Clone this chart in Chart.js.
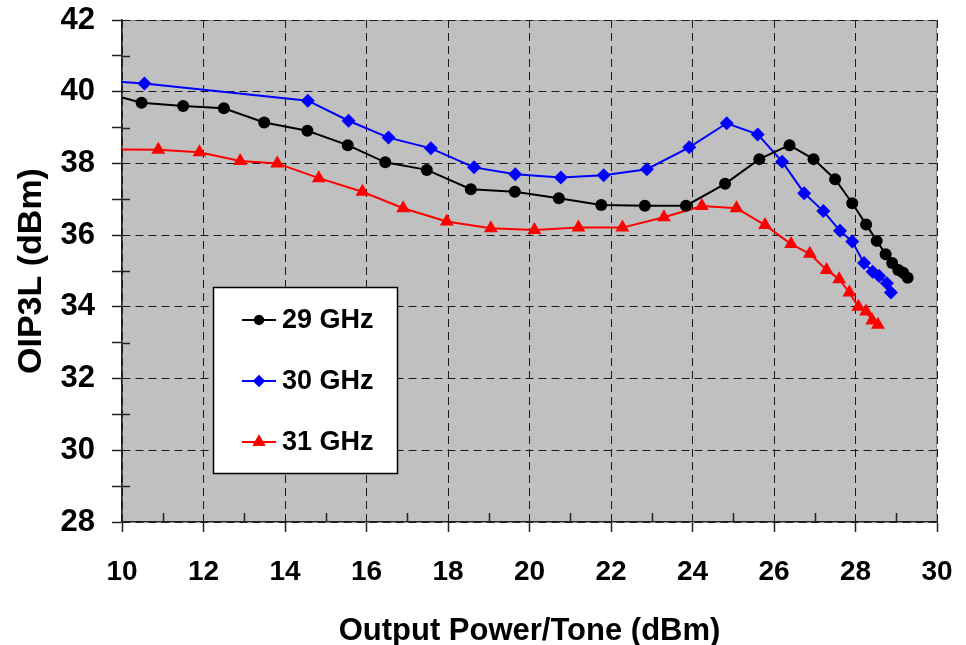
<!DOCTYPE html>
<html>
<head>
<meta charset="utf-8">
<title>OIP3L vs Output Power/Tone</title>
<script src="https://cdn.jsdelivr.net/npm/chart.js@4.4.1/dist/chart.umd.min.js"></script>
<style>
  html, body { margin: 0; padding: 0; background: #fff; }
</style>
</head>
<body>
<canvas id="oipChart" width="966" height="645"></canvas>
<script>
// values
const seriesNames = ['29 GHz', '30 GHz', '31 GHz'];

const pout29 = [10.0, 10.48, 11.50, 12.50, 13.49, 14.55, 15.54, 16.46, 17.48, 18.56, 19.64, 20.72, 21.76, 22.83, 23.84,
  24.80, 25.64, 26.38, 26.97, 27.50, 27.92, 28.26, 28.52, 28.74, 28.90, 29.05, 29.17, 29.28];
const oip29 = [39.84, 39.69, 39.60, 39.54, 39.14, 38.91, 38.51, 38.03, 37.82, 37.28, 37.21, 37.03, 36.84, 36.82, 36.82,
  37.43, 38.12, 38.51, 38.12, 37.56, 36.89, 36.30, 35.84, 35.47, 35.22, 35.03, 34.95, 34.81];

const pout30 = [10.0, 10.55, 14.56, 15.56, 16.54, 17.58, 18.64, 19.65, 20.77, 21.82, 22.88, 23.92, 24.84, 25.60,
  26.20, 26.74, 27.21, 27.62, 27.92, 28.21, 28.42, 28.58, 28.77, 28.87];
const oip30 = [40.27, 40.23, 39.75, 39.19, 38.72, 38.42, 37.89, 37.70, 37.61, 37.67, 37.84, 38.45, 39.12, 38.81,
  38.05, 37.17, 36.67, 36.12, 35.82, 35.22, 34.98, 34.86, 34.66, 34.40];

const pout31 = [10.0, 10.89, 11.90, 12.90, 13.81, 14.83, 15.90, 16.90, 17.97, 19.05, 20.12, 21.20, 22.28, 23.30,
  24.23, 25.08, 25.78, 26.42, 26.88, 27.29, 27.60, 27.85, 28.07, 28.26, 28.41, 28.55];
const oip31 = [38.39, 38.38, 38.31, 38.07, 38.00, 37.59, 37.21, 36.75, 36.38, 36.19, 36.14, 36.21, 36.21, 36.50,
  36.81, 36.75, 36.28, 35.75, 35.48, 35.03, 34.77, 34.40, 34.00, 33.87, 33.62, 33.50];

const xMin = 10, xMax = 30, yMin = 28, yMax = 42;
const FONT = 'Liberation Sans, Arial, Helvetica, sans-serif';

function toPoints(xs, ys) {
  return xs.map((x, i) => ({ x: x, y: ys[i] }));
}

// first value sits on the left edge of the plot, no marker there
const edgeRadius = r => ctx => ctx.dataIndex === 0 ? 0 : r;

const datasets = [
  { label: seriesNames[0], data: toPoints(pout29, oip29), borderColor: '#000000', backgroundColor: '#000000',
    pointStyle: 'circle', pointRadius: edgeRadius(6), legendRadius: 5 },
  { label: seriesNames[1], data: toPoints(pout30, oip30), borderColor: '#0000ff', backgroundColor: '#0000ff',
    pointStyle: 'rectRot', pointRadius: edgeRadius(7), legendRadius: 6 },
  { label: seriesNames[2], data: toPoints(pout31, oip31), borderColor: '#ff0000', backgroundColor: '#ff0000',
    pointStyle: 'triangle', pointRadius: edgeRadius(8), legendRadius: 7.5 }
].map(ds => Object.assign(ds, { borderWidth: 2, tension: 0, pointBorderWidth: 0, fill: false }));

// grey plot area with a thin frame
const plotBackground = {
  id: 'plotBackground',
  beforeDraw(chart) {
    const { ctx, chartArea: a } = chart;
    ctx.save();
    ctx.fillStyle = '#c0c0c0';
    ctx.fillRect(a.left, a.top, a.right - a.left, a.bottom - a.top);
    ctx.strokeStyle = '#8c8c8c';
    ctx.lineWidth = 1;
    ctx.strokeRect(a.left + 0.5, a.top + 0.5, a.right - a.left - 1, a.bottom - a.top - 1);
    ctx.restore();
  }
};

// minor ticks on the inside of the axes
const innerTicks = {
  id: 'innerTicks',
  afterDraw(chart) {
    const { ctx, chartArea: a, scales } = chart;
    ctx.save();
    ctx.strokeStyle = '#222';
    ctx.lineWidth = 1.5;
    ctx.beginPath();
    for (let v = xMin + 1; v < xMax; v += 2) {
      const px = Math.round(scales.x.getPixelForValue(v)) + 0.5;
      ctx.moveTo(px, a.bottom);
      ctx.lineTo(px, a.bottom - 9);
    }
    for (let v = yMin + 1; v < yMax; v += 2) {
      const py = Math.round(scales.y.getPixelForValue(v)) + 0.5;
      ctx.moveTo(a.left, py);
      ctx.lineTo(a.left + 8, py);
    }
    ctx.stroke();
    ctx.restore();
  }
};

// boxed legend inside the plot
const boxLegend = {
  id: 'boxLegend',
  afterDraw(chart) {
    const { ctx } = chart;
    const box = { x: 213, y: 287, w: 184, h: 186 };
    ctx.save();
    ctx.fillStyle = '#ffffff';
    ctx.fillRect(box.x, box.y, box.w, box.h);
    ctx.strokeStyle = '#000000';
    ctx.lineWidth = 1.5;
    ctx.strokeRect(box.x + 0.5, box.y + 0.5, box.w, box.h);
    ctx.font = 'bold 27px ' + FONT;
    ctx.textBaseline = 'middle';
    ctx.textAlign = 'left';
    chart.data.datasets.forEach((ds, i) => {
      const y = 320 + i * 61;
      ctx.strokeStyle = ds.borderColor;
      ctx.lineWidth = 2;
      ctx.beginPath();
      ctx.moveTo(242, y);
      ctx.lineTo(276, y);
      ctx.stroke();
      ctx.fillStyle = ds.backgroundColor;
      Chart.helpers.drawPoint(ctx, { pointStyle: ds.pointStyle, radius: ds.legendRadius, borderWidth: 0, rotation: 0 }, 259, y);
      ctx.fill();
      ctx.fillStyle = '#000000';
      ctx.fillText(ds.label, 282, y + 1);
    });
    ctx.restore();
  }
};

new Chart(document.getElementById('oipChart'), {
  type: 'line',
  data: { datasets: datasets },
  plugins: [plotBackground, innerTicks, boxLegend],
  options: {
    responsive: false,
    animation: false,
    events: [],
    layout: { padding: { top: 20, right: 29, left: 0, bottom: 0 } },
    plugins: { legend: { display: false }, tooltip: { enabled: false } },
    scales: {
      x: {
        type: 'linear',
        min: xMin,
        max: xMax,
        // fixed axis box, no extra room for the end labels
        afterFit: s => { s.height = 123; s.paddingLeft = 0; s.paddingRight = 0; },
        ticks: { stepSize: 2, padding: 23, color: '#000', font: { family: FONT, size: 28, weight: 'bold' } },
        grid: { color: '#1a1a1a', tickLength: 10, tickColor: '#222', tickWidth: 1.5, tickBorderDash: [] },
        border: { display: true, color: '#222', width: 1.5, dash: [8, 5] },
        title: { display: true, text: 'Output Power/Tone (dBm)', color: '#000',
          font: { family: FONT, size: 31, weight: 'bold', lineHeight: 0.9 }, padding: { top: 0, bottom: 0 } }
      },
      y: {
        min: yMin,
        max: yMax,
        afterFit: s => { s.width = 122; s.paddingTop = 0; s.paddingBottom = 0; },
        ticks: { stepSize: 1, autoSkip: false, padding: 17, color: '#000',
          callback: v => v % 2 === 0 ? v : '',
          font: { family: FONT, size: 31, weight: 'bold' } },
        grid: {
          color: ctx => (ctx.tick && ctx.tick.value % 2 === 0) ? '#1a1a1a' : 'rgba(0,0,0,0)',
          tickLength: 10, tickColor: '#222', tickWidth: 1.5, tickBorderDash: []
        },
        border: { display: true, color: '#222', width: 1.5, dash: [8, 5] },
        title: { display: true, text: 'OIP3L (dBm)', color: '#000',
          font: { family: FONT, size: 34, weight: 'bold', lineHeight: 1 }, padding: { top: 15, bottom: 0 } }
      }
    }
  }
});
</script>
</body>
</html>
